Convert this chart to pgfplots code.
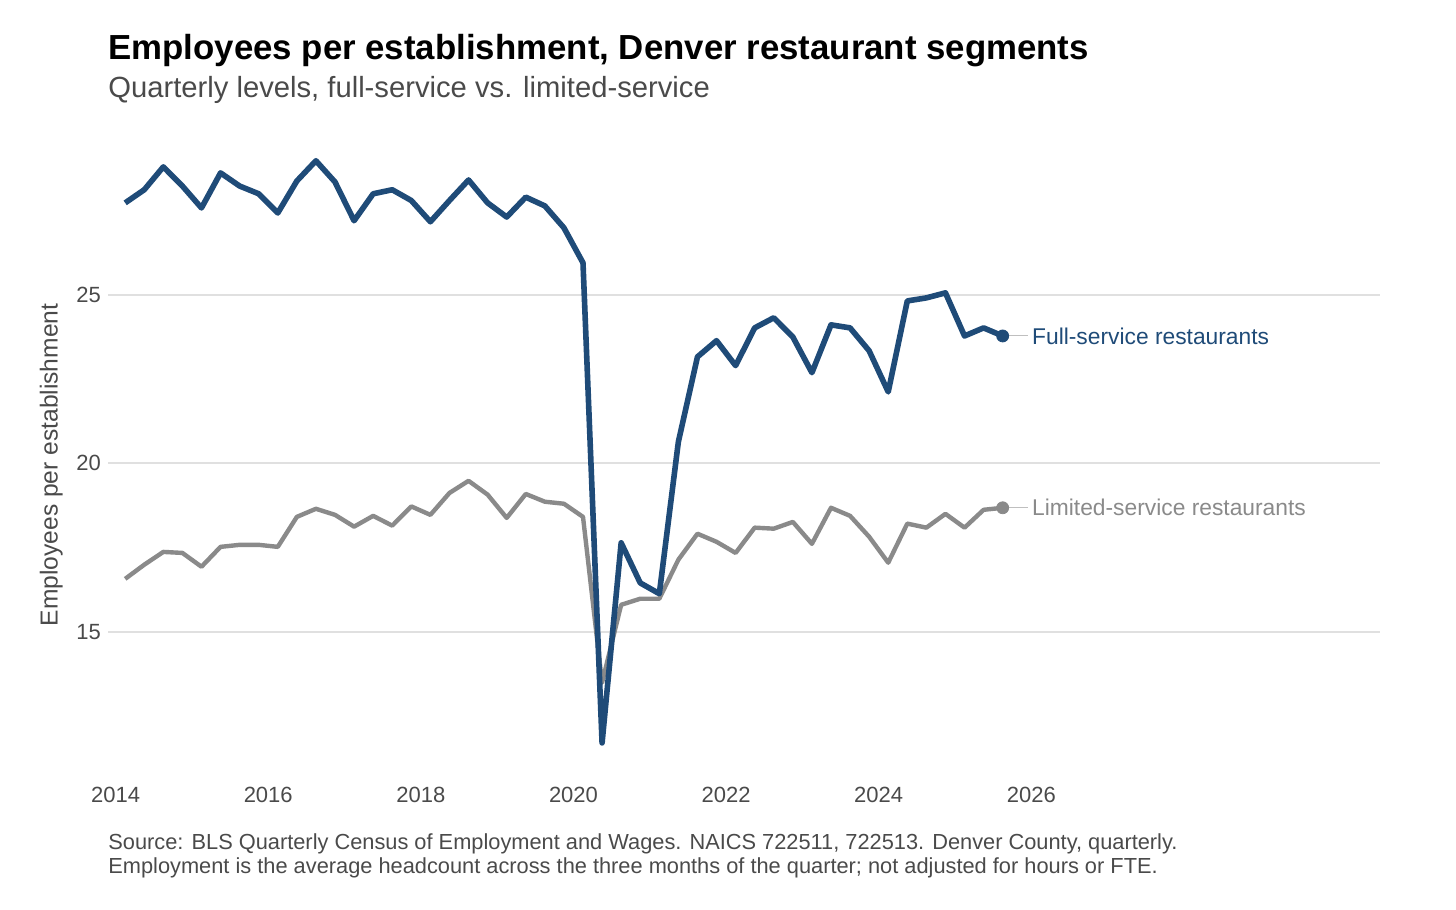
\documentclass[border=0pt]{standalone}
\usepackage{pgfplots}
\pgfplotsset{compat=1.18}
\usepackage{fontspec}
\setmainfont{Liberation Sans}
\definecolor{fsblue}{HTML}{1F4B78}
\definecolor{lsgray}{HTML}{8A8A8A}
\definecolor{txt}{HTML}{4A4A4A}
\begin{document}
\begin{tikzpicture}[x=1pt,y=1pt]
\path (0,0) rectangle (728,455);
\node[anchor=base west,font=\bfseries\fontsize{17.4}{19}\selectfont,inner sep=0pt] at (54,425) {Employees per establishment, Denver restaurant segments};
\node[anchor=base west,text=txt,font=\fontsize{14.6}{16}\selectfont,inner sep=0pt] at (54,406) {Quarterly levels, full-service vs. limited-service};
\node[anchor=base west,text=txt,font=\fontsize{10.9}{12}\selectfont,inner sep=0pt] at (54,30) {Source: BLS Quarterly Census of Employment and Wages. NAICS 722511, 722513. Denver County, quarterly.};
\node[anchor=base west,text=txt,font=\fontsize{10.9}{12}\selectfont,inner sep=0pt] at (54,18) {Employment is the average headcount across the three months of the quarter; not adjusted for hours or FTE.};
\begin{axis}[at={(54pt,65pt)},anchor=south west,scale only axis,width=636pt,height=315pt,
xmin=2013.9,xmax=2030.57,ymin=10.6,ymax=29.3,
axis line style={draw=none},tick style={draw=none},
xtick={2014,2016,...,2026},ytick={15,20,25},
xticklabel style={/pgf/number format/1000 sep={},text=txt,font=\fontsize{11}{12}\selectfont},
yticklabel style={text=txt,font=\fontsize{11}{12}\selectfont},
/pgf/number format/assume math mode=true,
ymajorgrids,grid style={draw=black!12,line width=1pt},
ylabel={Employees per establishment},ylabel style={text=txt,font=\fontsize{12.3}{14}\selectfont},
clip=false]
\addplot[lsgray,line width=2.2pt,line join=round] table {
2014.125 16.57
2014.375 16.99
2014.625 17.37
2014.875 17.34
2015.125 16.93
2015.375 17.52
2015.625 17.58
2015.875 17.58
2016.125 17.52
2016.375 18.41
2016.625 18.65
2016.875 18.47
2017.125 18.12
2017.375 18.44
2017.625 18.15
2017.875 18.72
2018.125 18.47
2018.375 19.12
2018.625 19.48
2018.875 19.07
2019.125 18.38
2019.375 19.09
2019.625 18.86
2019.875 18.80
2020.125 18.41
2020.375 13.49
2020.625 15.80
2020.875 15.98
2021.125 15.98
2021.375 17.14
2021.625 17.91
2021.875 17.67
2022.125 17.34
2022.375 18.09
2022.625 18.06
2022.875 18.26
2023.125 17.61
2023.375 18.68
2023.625 18.44
2023.875 17.82
2024.125 17.05
2024.375 18.21
2024.625 18.09
2024.875 18.50
2025.125 18.09
2025.375 18.62
2025.625 18.68
};
\addplot[fsblue,line width=2.8pt,line join=round] table {
2014.125 27.73
2014.375 28.12
2014.625 28.80
2014.875 28.23
2015.125 27.58
2015.375 28.62
2015.625 28.23
2015.875 28.00
2016.125 27.43
2016.375 28.38
2016.625 28.98
2016.875 28.35
2017.125 27.20
2017.375 28.00
2017.625 28.12
2017.875 27.80
2018.125 27.17
2018.375 27.80
2018.625 28.41
2018.875 27.73
2019.125 27.31
2019.375 27.90
2019.625 27.64
2019.875 26.99
2020.125 25.95
2020.375 11.70
2020.625 17.64
2020.875 16.45
2021.125 16.13
2021.375 20.64
2021.625 23.16
2021.875 23.64
2022.125 22.90
2022.375 24.02
2022.625 24.32
2022.875 23.75
2023.125 22.69
2023.375 24.11
2023.625 24.02
2023.875 23.34
2024.125 22.12
2024.375 24.82
2024.625 24.91
2024.875 25.06
2025.125 23.78
2025.375 24.02
2025.625 23.78
};
\addplot[only marks,mark=*,mark size=3pt,fsblue] coordinates {(2025.625,23.78)};
\addplot[only marks,mark=*,mark size=3pt,lsgray] coordinates {(2025.625,18.68)};
\draw[black!25,line width=0.5pt] (axis cs:2025.7,23.78) -- (axis cs:2025.96,23.78);
\draw[black!25,line width=0.5pt] (axis cs:2025.7,18.68) -- (axis cs:2025.96,18.68);
\node[anchor=west,text=fsblue,font=\fontsize{11.4}{13}\selectfont,inner sep=1pt] at (axis cs:2025.98,23.78) {Full-service restaurants};
\node[anchor=west,text=lsgray,font=\fontsize{11.4}{13}\selectfont,inner sep=1pt] at (axis cs:2025.98,18.68) {Limited-service restaurants};
\end{axis}
\end{tikzpicture}
\end{document}
